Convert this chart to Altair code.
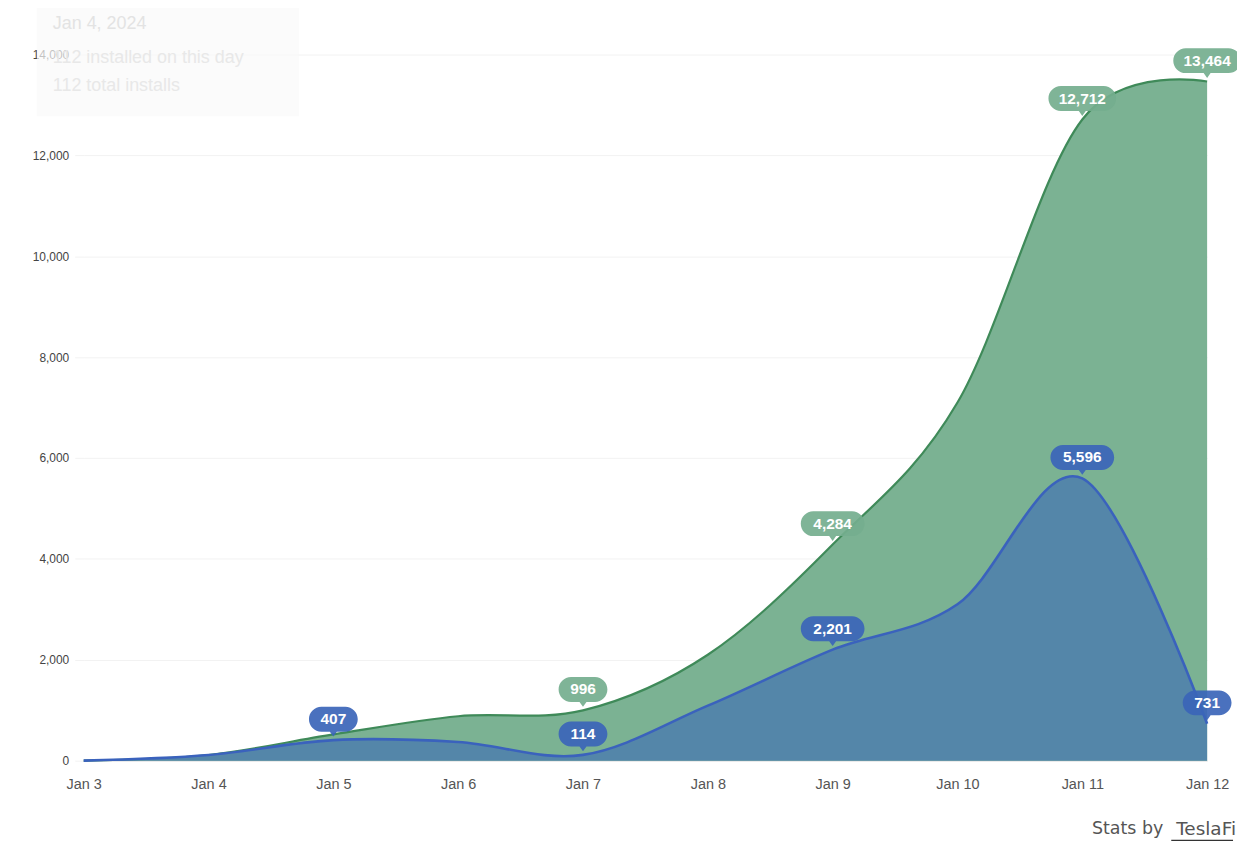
import altair as alt
import pandas as pd

# ---- data ----
days = [3, 4, 5, 6, 7, 8, 9, 10, 11, 12]
installed_on_day = [0, 112, 407, 370, 114, 1090, 2201, 3100, 5596, 731]
total_installs = [0, 112, 520, 880, 996, 2100, 4284, 7100, 12712, 13464]
blue_label_days = [5, 7, 9, 11, 12]
green_label_days = [7, 9, 11, 12]
y_ticks = [0, 2000, 4000, 6000, 8000, 10000, 12000, 14000]

df = pd.DataFrame({"day": days, "installed": installed_on_day, "total": total_installs})

blue_lab = df[df["day"].isin(blue_label_days)][["day", "installed"]].rename(columns={"installed": "v"})
green_lab = df[df["day"].isin(green_label_days)][["day", "total"]].rename(columns={"total": "v"})
for d in (blue_lab, green_lab):
    d["txt"] = d["v"].map(lambda v: f"{v:,}")
    d["len"] = d["txt"].str.len().astype(str)

# ---- pill shapes (custom symbol paths, unit = sqrt(size)/2 = 35 px) ----
UNIT = 35.0
def pill(width_px, height_px=25):
    a = width_px / 2 / UNIT
    h = height_px / 2 / UNIT
    k = 0.5523 * h
    tw, td = 0.1, 0.14
    p = (f"M {-a+h:.3f} {-h:.3f} L {a-h:.3f} {-h:.3f} "
         f"C {a-h+k:.3f} {-h:.3f} {a:.3f} {-k:.3f} {a:.3f} 0 "
         f"C {a:.3f} {k:.3f} {a-h+k:.3f} {h:.3f} {a-h:.3f} {h:.3f} "
         f"L {tw:.3f} {h:.3f} L 0 {h+td:.3f} L {-tw:.3f} {h:.3f} "
         f"L {-a+h:.3f} {h:.3f} "
         f"C {-a+h-k:.3f} {h:.3f} {-a:.3f} {k:.3f} {-a:.3f} 0 "
         f"C {-a:.3f} {-k:.3f} {-a+h-k:.3f} {-h:.3f} {-a+h:.3f} {-h:.3f} Z")
    return p

shape_scale = alt.Scale(domain=["3", "5", "6"], range=[pill(49), pill(64), pill(68)])

GREEN_FILL = "#7bb293"
GREEN_LINE = "#3f8a59"
BLUE_FILL = "#5486a9"
BLUE_LINE = "#3a62bd"
GREEN_PILL = "#74ae8e"
BLUE_PILL = "#3b65b9"

x_enc = alt.X("day:Q", scale=alt.Scale(domain=[3, 12], nice=False, zero=False),
              axis=alt.Axis(values=days, labelExpr="'Jan ' + datum.value", title=None,
                            grid=False, ticks=False, labelPadding=17, labelFontSize=14.5,
                            labelColor="#555", labelFont="Liberation Sans", labelFlush=False,
                            labelOverlap=False,
                            domain=True, domainColor="#e4e4e4"))
y_scale = alt.Scale(domain=[0, 14000], nice=False)

base = alt.Chart(df)

green_area = base.mark_area(interpolate="cardinal", color=GREEN_FILL, opacity=1).encode(
    x=x_enc,
    y=alt.Y("total:Q", scale=y_scale,
            axis=alt.Axis(values=y_ticks, format=",d", title=None, grid=True,
                          gridColor="#f2f2f2", ticks=True, tickColor="#f2f2f2", tickSize=9,
                          labelPadding=6, labelFontSize=12, labelColor="#444",
                          labelFont="Liberation Sans", domain=False)),
)
green_line = base.mark_line(interpolate="cardinal", color=GREEN_LINE, strokeWidth=2.2).encode(
    x="day:Q", y=alt.Y("total:Q", scale=y_scale))
blue_area = base.mark_area(interpolate="cardinal", color=BLUE_FILL, opacity=1).encode(
    x="day:Q", y=alt.Y("installed:Q", scale=y_scale))
blue_line = base.mark_line(interpolate="cardinal", color=BLUE_LINE, strokeWidth=2.6).encode(
    x="day:Q", y=alt.Y("installed:Q", scale=y_scale))

def pills(data, color):
    c = alt.Chart(data)
    bg = c.mark_point(filled=True, size=UNIT * UNIT * 4, yOffset=-21, opacity=0.92,
                      color=color, strokeWidth=0).encode(
        x="day:Q", y=alt.Y("v:Q", scale=y_scale),
        shape=alt.Shape("len:N", scale=shape_scale, legend=None))
    tx = c.mark_text(yOffset=-21, color="white", fontSize=15.5, fontWeight="bold",
                     font="Liberation Sans", baseline="middle", align="center").encode(
        x="day:Q", y=alt.Y("v:Q", scale=y_scale), text="txt:N")
    return bg + tx

# ---- faint ghost tooltip in the top-left ----
one = alt.Chart(pd.DataFrame({"k": [0]}))
BOX_PATH = "M -1 -0.437 L 1 -0.437 L 1 0.437 L -1 0.437 Z"
tip_box = one.mark_point(shape=BOX_PATH, filled=True, size=263 * 263, color="#fafafa",
                         opacity=0.7, strokeWidth=0).encode(
    x=alt.value(84.5), y=alt.value(4.5))
tip_t1 = one.mark_text(text="Jan 4, 2024", align="left", baseline="middle", fontSize=18,
                       color="#e3e3e3", font="Liberation Sans").encode(x=alt.value(-31), y=alt.value(-31))
tip_t2 = one.mark_text(text="112 installed on this day", align="left", baseline="middle", fontSize=18,
                       color="#e8e8e8", font="Liberation Sans").encode(x=alt.value(-31), y=alt.value(4))
tip_t3 = one.mark_text(text="112 total installs", align="left", baseline="middle", fontSize=18,
                       color="#e8e8e8", font="Liberation Sans").encode(x=alt.value(-31), y=alt.value(32))

# ---- credit ----
credit1 = one.mark_text(text="Stats by", align="right", baseline="middle", fontSize=17.5,
                        color="#555", font="DejaVu Sans").encode(x=alt.value(1084), y=alt.value(778))
credit2 = one.mark_text(text="TeslaFi", align="right", baseline="middle", fontSize=18.5,
                        color="#555", font="DejaVu Sans").encode(x=alt.value(1157), y=alt.value(778))
underline = one.mark_rule(color="#333", strokeWidth=1.2).encode(
    x=alt.value(1092), x2=alt.value(1154), y=alt.value(789))

chart = alt.layer(
    tip_box,
    green_area, green_line, blue_area, blue_line,
    pills(green_lab, GREEN_PILL), pills(blue_lab, BLUE_PILL),
    tip_t1, tip_t2, tip_t3,
    credit1, credit2, underline,
).properties(
    width=1128, height=709,
    background="white",
    autosize=alt.AutoSizeParams(type="none"),
    padding={"left": 76, "top": 45, "right": 30, "bottom": 80},
).configure_view(strokeWidth=0, stroke="transparent")

chart.save("out.html", embed_options={"renderer": "svg", "actions": False})
